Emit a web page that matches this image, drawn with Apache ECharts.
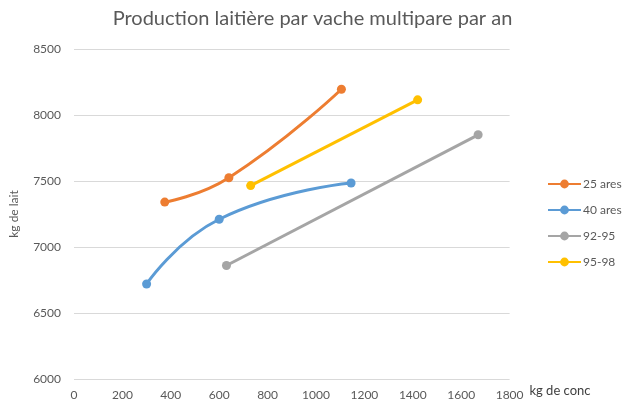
<!DOCTYPE html>
<html>
<head>
<meta charset="utf-8">
<script src="https://cdn.jsdelivr.net/npm/echarts@6/dist/echarts.min.js"></script>
<style>
  html, body { margin: 0; padding: 0; background: #fff; }
  #chart { width: 625px; height: 409px; }
</style>
</head>
<body>
<div id="chart"></div>
<script>
// Concentrate fed (kg) and milk yield (kg) per series
const ares25X = [375, 640, 1105];
const ares25Y = [7340, 7525, 8195];
const ares40X = [300, 600, 1145];
const ares40Y = [6720, 7210, 7485];
const p9295X = [630, 1670];
const p9295Y = [6860, 7850];
const p9598X = [730, 1420];
const p9598Y = [7465, 8115];

const seriesNames = ['25 ares', '40 ares', '92-95', '95-98'];
const seriesColors = ['#ED7D31', '#5B9BD5', '#A5A5A5', '#FFC000'];

const pairs = (xs, ys) => xs.map((x, i) => [x, ys[i]]);
const font = 'Lato, "Open Sans", sans-serif';
const plain = v => String(v);

const chart = echarts.init(document.getElementById('chart'), null, { renderer: 'canvas' });

const mk = (name, data, color, smooth) => ({
  name, type: 'line', data, smooth,
  symbol: 'circle', symbolSize: 9,
  lineStyle: { width: 3, color },
  itemStyle: { color },
  z: 3
});

chart.setOption({
  animation: false,
  textStyle: { fontFamily: font },
  title: {
    text: 'Production laitière par vache multipare par an',
    left: 'center', top: 4,
    textStyle: { fontSize: 20, fontWeight: 'normal', color: '#595959', fontFamily: font }
  },
  legend: {
    orient: 'vertical',
    left: 547, top: 178, padding: 0,
    itemWidth: 33, itemHeight: 11, itemGap: 14,
    data: seriesNames,
    textStyle: { fontSize: 12, color: '#595959', fontFamily: font, padding: [0, 0, 0, -3] }
  },
  grid: { left: 69.3, right: 115.4, top: 49, bottom: 30, containLabel: false },
  xAxis: {
    type: 'value', min: 0, max: 1800, interval: 200,
    name: 'kg de conc', nameLocation: 'end', nameGap: 4,
    nameTextStyle: { fontSize: 13, color: '#404040', align: 'left', verticalAlign: 'top', padding: [5, 0, 0, 0], fontFamily: font },
    axisLine: { show: false }, axisTick: { show: false },
    splitLine: { show: false },
    axisLabel: { fontSize: 12, color: '#595959', margin: 10, fontFamily: font, formatter: plain }
  },
  yAxis: {
    type: 'value', min: 6000, max: 8500, interval: 500,
    name: 'kg de lait', nameLocation: 'middle', nameGap: 54,
    nameTextStyle: { fontSize: 12, color: '#595959', fontFamily: font },
    axisLine: { show: false }, axisTick: { show: false },
    splitLine: { lineStyle: { color: '#D9D9D9', width: 1 } },
    axisLabel: { fontSize: 12, color: '#595959', margin: 13, fontFamily: font, formatter: plain }
  },
  series: [
    mk(seriesNames[0], pairs(ares25X, ares25Y), seriesColors[0], 0.5),
    mk(seriesNames[1], pairs(ares40X, ares40Y), seriesColors[1], 0.5),
    mk(seriesNames[2], pairs(p9295X, p9295Y), seriesColors[2], false),
    mk(seriesNames[3], pairs(p9598X, p9598Y), seriesColors[3], false)
  ]
});
</script>
</body>
</html>
